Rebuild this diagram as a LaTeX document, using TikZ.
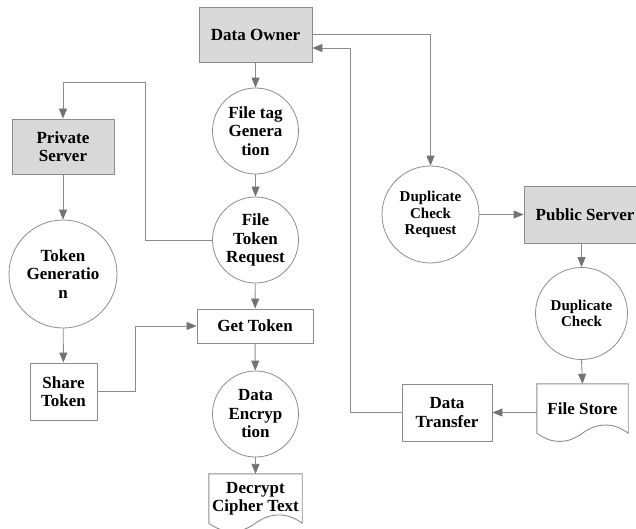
\documentclass[tikz,border=0pt]{standalone}
\usepackage{fontspec}
\setmainfont{Liberation Serif}
\usetikzlibrary{arrows.meta,calc}
\definecolor{lgray}{RGB}{140,140,140}
\definecolor{agray}{RGB}{115,115,115}
\definecolor{boxfill}{RGB}{217,217,217}
\tikzset{
  base/.style={font=\bfseries\fontsize{17}{18.5}\selectfont, align=center, inner sep=0pt, text=black},
  graybox/.style={base, draw=lgray, line width=0.9pt, fill=boxfill, minimum width=#1, minimum height=55},
  whitebox/.style={base, draw=lgray, line width=0.9pt, fill=white, minimum width=#1},
  proc/.style={base, circle, draw=lgray, line width=0.8pt, minimum size=#1},
  small/.style={font=\bfseries\fontsize{15}{16.5}\selectfont},
  docnode/.style={base, minimum width=#1, minimum height=49},
  conn/.style={draw=lgray, line width=0.9pt, -{Triangle[length=10pt,width=8pt,fill=agray,color=agray]}},
  plain/.style={draw=lgray, line width=0.9pt},
}
\begin{document}
\begin{tikzpicture}[x=1pt,y=-1pt]
\useasboundingbox (0,0) rectangle (636,529);
% nodes
\node[graybox=113] (DO) at (255.5,34.5) {Data Owner};
\node[proc=86] (FTG) at (255.5,131) {File tag\\Genera\\tion};
\node[proc=86] (FTR) at (255.5,240) {File\\Token\\Request};
\node[graybox=102] (PS) at (63,146.5) {Private\\Server};
\node[proc=108] (TG) at (63,274) {Token\\Generatio\\n};
\node[whitebox=67, minimum height=57] (ST) at (63.5,391.5) {Share\\Token};
\node[whitebox=116, minimum height=34] (GT) at (255,326) {Get Token};
\node[proc=86] (DE) at (255.5,414) {Data\\Encryp\\tion};
\node[docnode=93] (DCT) at (255.5,498.5) {Decrypt\\Cipher Text};
\node[proc=97, small] (DCR) at (430.5,214.5) {Duplicate\\Check\\Request};
\node[graybox=122, minimum height=57] (PUB) at (585,214.5) {Public Server};
\node[proc=92, small] (DC) at (581.5,313.5) {Duplicate\\Check};
\node[docnode=91] (FS) at (582.5,408.5) {File Store};
\node[whitebox=90, minimum height=57] (DT) at (447,412.5) {Data\\Transfer};
% document shapes
\foreach \n in {DCT,FS}{
  \draw[plain] (\n.north west) -- (\n.north east) -- (\n.south east)
    .. controls +(-15,-11) and +(15,-11) .. (\n.south)
    .. controls +(-15,11) and +(15,11) .. (\n.south west) -- cycle;
}
% coordinates
\coordinate (c1) at (145,82);
\coordinate (c2) at (135,326);
\coordinate (c3) at (350,48);
% connectors
\draw[conn] (DO) -- (FTG);
\draw[conn] (FTG) -- (FTR);
\draw[conn] (FTR.west) -| (c1) -| (PS.north);
\draw[conn] (PS) -- (TG);
\draw[conn] (TG) -- (ST);
\draw[conn] (ST.east) -| (c2) -- (GT.west);
\draw[conn] (FTR) -- (GT);
\draw[conn] (GT) -- (DE);
\draw[conn] (DE.south) -- (DCT.north);
\draw[conn] (DO.east) -| (DCR.north);
\draw[conn] (DCR.east) -- (PUB.west);
\draw[conn] (DC.north |- PUB.south) -- (DC.north);
\draw[conn] (DC.south) -- (FS.north);
\draw[conn] (FS.west |- DT.east) -- (DT.east);
\draw[conn] (DT.west) -| (c3) -- (c3 -| DO.east);
\end{tikzpicture}
\end{document}
